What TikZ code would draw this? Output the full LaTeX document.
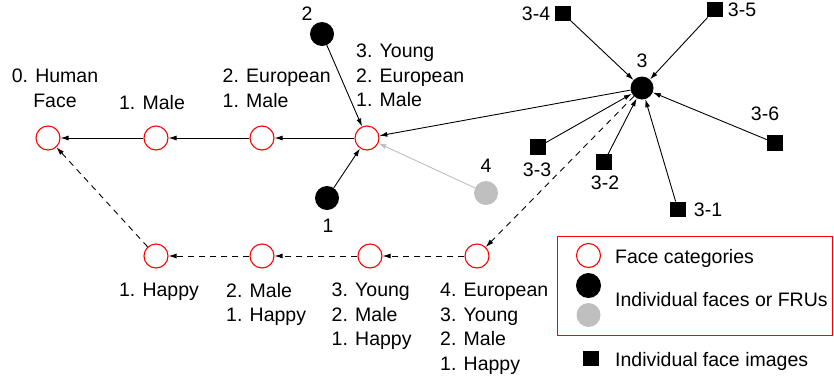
\documentclass[tikz,border=0pt]{standalone}
\usepackage{fontspec}
\setmainfont{Liberation Sans}
\usetikzlibrary{arrows.meta}
\begin{document}
\begin{tikzpicture}[x=1pt,y=-1pt,
  cat/.style={circle,draw=red,line width=1.1pt,minimum size=24pt,inner sep=0pt,fill=white},
  face/.style={circle,fill=black,minimum size=24pt,inner sep=0pt},
  gface/.style={circle,fill=black!25,minimum size=24pt,inner sep=0pt},
  img/.style={rectangle,fill=black,minimum size=15.5pt,inner sep=0pt},
  lbl/.style={font=\fontsize{19.5}{24.5}\selectfont,inner sep=0pt,align=left},
  edge/.style={line width=0.9pt,-{Latex[length=8pt,width=5pt]}},
  dedge/.style={edge,dash pattern=on 6pt off 5pt},
]
\useasboundingbox (0,0) rectangle (834,381);
% category nodes
\node[cat] (c0) at (48,138) {};
\node[cat] (c1) at (156,138) {};
\node[cat] (c2) at (262,138) {};
\node[cat] (c3) at (367,138) {};
\node[cat] (b1) at (156,256) {};
\node[cat] (b2) at (262,256) {};
\node[cat] (b3) at (370,256) {};
\node[cat] (b4) at (477,256) {};
% faces
\node[face] (f2) at (322,34) {};
\node[face] (f1) at (327,198) {};
\node[gface] (f4) at (486,193) {};
\node[face,minimum size=23pt] (f3) at (642,88) {};
% images
\node[img] (i1) at (678,209.5) {};
\node[img] (i2) at (604,162) {};
\node[img] (i3) at (538,147) {};
\node[img] (i4) at (563,13.5) {};
\node[img] (i5) at (715,9.5) {};
\node[img] (i6) at (775,143) {};
% labels
\node[lbl,align=center,anchor=north] (l0) at (55,69) {0. Human\\Face};
\node[lbl,anchor=north] (l1) at (152,95) {1. Male};
\node[lbl,anchor=north west] (l2) at (222.5,69) {2. European\\1. Male};
\node[lbl,anchor=north west] (l3) at (356,44) {3. Young\\2. European\\1. Male};
\node[lbl,anchor=north] (lb1) at (159,283) {1. Happy};
\node[lbl,anchor=north west] (lb2) at (226,283) {2. Male\\1. Happy};
\node[lbl,anchor=north west] (lb3) at (331.5,283) {3. Young\\2. Male\\1. Happy};
\node[lbl,anchor=north west] (lb4) at (440,283) {4. European\\3. Young\\2. Male\\1. Happy};
\node[lbl] (n2) at (307,14) {2};
\node[lbl] (n1) at (328,226) {1};
\node[lbl] (n4) at (486,166) {4};
\node[lbl] (n3) at (642,61) {3};
\node[lbl] (m1) at (708,209.5) {3-1};
\node[lbl] (m2) at (605,183) {3-2};
\node[lbl] (m3) at (537,170) {3-3};
\node[lbl] (m4) at (536,14) {3-4};
\node[lbl] (m5) at (742,9.5) {3-5};
\node[lbl] (m6) at (765,114) {3-6};
% edges
\draw[edge] (c1) -- (c0);
\draw[edge] (c2) -- (c1);
\draw[edge] (c3) -- (c2);
\draw[edge] (f2) -- (c3);
\draw[edge] (f1) -- (c3);
\draw[edge,draw=black!25,fill=black!25] (f4) -- (c3);
\draw[edge] (f3) -- (c3);
\foreach \i in {1,...,6} \draw[edge] (i\i) -- (f3);
\draw[dedge] (f3) -- (b4);
\draw[dedge] (b4) -- (b3);
\draw[dedge] (b3) -- (b2);
\draw[dedge] (b2) -- (b1);
\draw[dedge] (b1) -- (c0);
% legend
\node[draw=red,line width=0.9pt,minimum width=275pt,minimum height=99pt,inner sep=0pt,anchor=north west] (legbox) at (557,236) {};
\node[cat] (lc) at (588.5,255.5) {};
\node[face,minimum size=25pt] (lf) at (588.5,285.5) {};
\node[gface] (lg) at (588.5,315) {};
\node[img] (li) at (591,358.5) {};
\node[lbl,anchor=base west] (t1) at (615,263.3) {Face categories};
\node[lbl,anchor=base west] (t2) at (615,306) {Individual faces or FRUs};
\node[lbl,anchor=base west] (t3) at (615,366) {Individual face images};
\end{tikzpicture}
\end{document}
